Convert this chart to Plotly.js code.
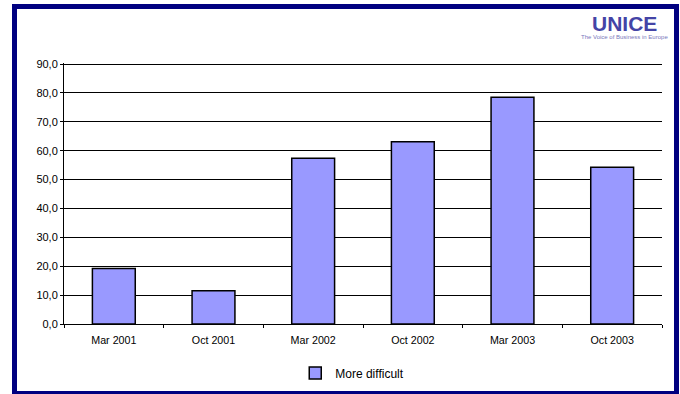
<!DOCTYPE html>
<html>
<head>
<meta charset="utf-8">
<script src="https://cdn.plot.ly/plotly-3.0.1.min.js"></script>
<style>
  html, body { margin: 0; padding: 0; background: #fff; }
  #wrap { position: relative; width: 680px; height: 394px; overflow: hidden; }
  #chart { position: absolute; left: 0; top: 0; width: 680px; height: 394px; }
  #frame { position: absolute; left: 12px; top: 4px; width: 667px; height: 392px;
           border: 5px solid #000080; box-sizing: border-box; pointer-events: none; }
</style>
</head>
<body>
<div id="wrap">
  <div id="chart"></div>
  <div id="frame"></div>
</div>
<script>
const categories = ["Mar 2001", "Oct 2001", "Mar 2002", "Oct 2002", "Mar 2003", "Oct 2003"];
const moreDifficult = [19.2, 11.5, 57.4, 63.1, 78.5, 54.3];
const seriesName = "More difficult";
const yTickValues = [0, 10, 20, 30, 40, 50, 60, 70, 80, 90];

const traces = [{
  type: "bar",
  x: categories,
  y: moreDifficult,
  name: seriesName,
  marker: { color: "#9999FF", line: { color: "#000000", width: 1.5 } },
  hoverinfo: "skip"
}];

const layout = {
  width: 680, height: 394,
  margin: { l: 64, r: 18, t: 63, b: 70, pad: 0, autoexpand: false },
  paper_bgcolor: "rgba(0,0,0,0)",
  plot_bgcolor: "#ffffff",
  separators: ",.",
  bargap: 0.57,
  font: { family: "Liberation Sans, Arial, sans-serif", size: 10, color: "#000" },
  showlegend: true,
  legend: {
    orientation: "h", x: 0.3867, xanchor: "left", y: -0.188, yanchor: "middle",
    font: { size: 12, color: "#000" }, itemwidth: 30, bgcolor: "rgba(0,0,0,0)"
  },
  xaxis: {
    type: "category",
    showline: true, linecolor: "#000", linewidth: 1,
    ticks: "outside", tickson: "boundaries", ticklen: 3, tickcolor: "#000",
    ticklabelstandoff: 6,
    showgrid: false, zeroline: false,
    tickfont: { size: 10.7 }
  },
  yaxis: {
    range: [0, 90.35], tickvals: yTickValues, tickformat: ".1f",
    showline: true, linecolor: "#000", linewidth: 1,
    ticks: "outside", ticklen: 3, tickcolor: "#000",
    showgrid: true, gridcolor: "#000", gridwidth: 1,
    zeroline: false, fixedrange: true,
    tickfont: { size: 11 }
  },
  annotations: [
    { xref: "paper", yref: "paper", x: 0.938, y: 1.15, xanchor: "center", yanchor: "middle",
      text: "<b>UNICE</b>", showarrow: false,
      font: { family: "Liberation Sans, Arial, sans-serif", size: 21, color: "#4444a6" } },
    { xref: "paper", yref: "paper", x: 0.938, y: 1.098, xanchor: "center", yanchor: "middle",
      text: "The Voice of Business in Europe", showarrow: false,
      font: { family: "Liberation Sans, Arial, sans-serif", size: 6, color: "#7878bc" } }
  ]
};

Plotly.newPlot("chart", traces, layout, { displayModeBar: false, staticPlot: true });
</script>
</body>
</html>
